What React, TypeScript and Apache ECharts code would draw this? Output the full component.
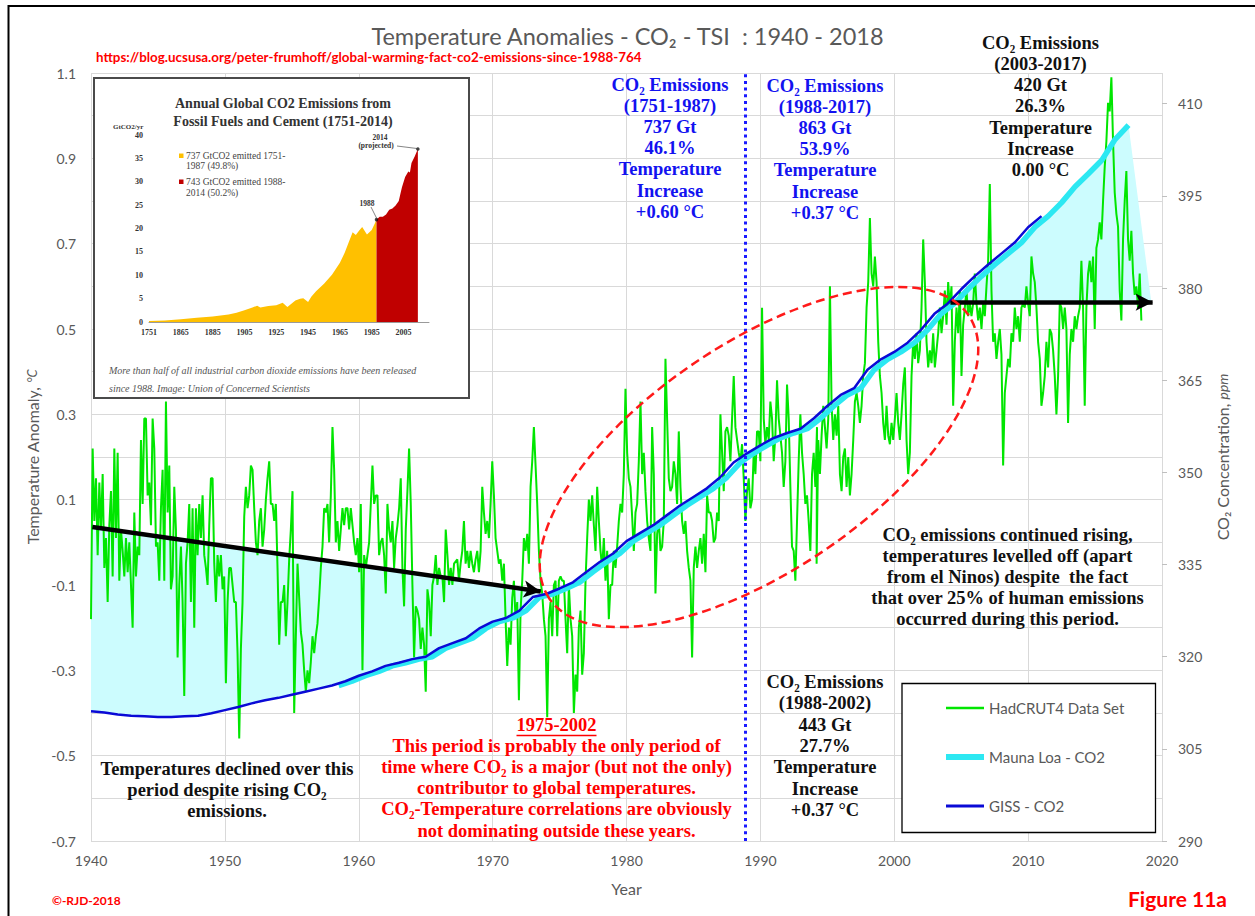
import React, { useEffect, useRef } from "react";
import * as echarts from "echarts";

// ---------------- DATA ----------------
// HadCRUT4 monthly-ish temperature anomalies (°C), three segments
const HADCRUT_STEP = 0.1244;
const HADCRUT_A_START = 1940.0;
const HADCRUT_A = [
  -0.18, 0.22, 0.05, 0.15, -0.03, 0.14, 0.03, 0.16, -0.06, 0.01,
  -0.14, 0.04, 0.12, -0.08, 0.22, 0.01, 0.21, -0.09, 0.03, -0.02,
  -0.08, 0.01, -0.07, 0.0, -0.1, -0.2, 0.07, -0.08, -0.01, -0.03,
  0.24, 0.09, 0.29, 0.29, 0.11, 0.14, 0.04, 0.29, 0.22, -0.01,
  0.0, -0.09, 0.08, 0.17, -0.09, 0.33, 0.07, 0.18, -0.11, -0.08,
  0.13, 0.03, -0.27, -0.1, -0.01, -0.14, -0.36, -0.05, 0.0, 0.09,
  -0.14, 0.08, -0.2, 0.08, -0.03, 0.09, 0.01, 0.11, -0.03, -0.06,
  -0.1, 0.04, 0.15, 0.15, -0.05, -0.14, -0.03, -0.08, -0.03, -0.11,
  -0.08, -0.33, -0.14, -0.06, -0.06, -0.1, -0.14, -0.14, -0.26, -0.46,
  -0.25, -0.14, 0.06, 0.13, 0.08, 0.11, 0.18, 0.17, 0.08, 0.0,
  -0.03, 0.05, 0.08, -0.01, 0.03, 0.1, 0.15, 0.19, 0.09, 0.09,
  0.05, 0.09, -0.06, -0.24, -0.14, -0.14, -0.1, -0.22, -0.14, -0.04,
  0.03, 0.12, -0.4, -0.22, -0.05, -0.13, -0.21, -0.24, -0.3, -0.35,
  -0.3, -0.33, -0.28, -0.22, -0.26, -0.22, -0.19, -0.13, -0.06, -0.01,
  0.08, 0.07, 0.09, 0.0, 0.11, 0.27, 0.17, 0.0, 0.05, -0.02,
  0.03, 0.08, 0.04, 0.08, 0.08, 0.03, 0.08, 0.04, 0.0, -0.03,
  0.01, -0.07, 0.09, -0.3, -0.03, -0.06, -0.03, 0.0, 0.09, 0.18,
  0.09, 0.11, 0.11, -0.03, 0.0, 0.01, -0.03, -0.12, 0.09, 0.03,
  0.0, 0.05, -0.06, 0.01, 0.04, 0.08, 0.15, -0.06, -0.15, 0.03,
  0.12, 0.22, 0.09, -0.1, -0.27, -0.15, -0.16, -0.18, -0.25, -0.2,
  -0.24, -0.35, -0.11, -0.14, -0.22, -0.1, -0.08, -0.03, -0.1, -0.06,
  -0.08, -0.08, -0.14, 0.03, -0.03, -0.1, -0.06, -0.1, -0.05,
];
const HADCRUT_B_START = 1967.36;
const HADCRUT_B = [
  -0.04, -0.09, -0.05, -0.02, 0.05, -0.05, -0.02, -0.06, -0.02, -0.05,
  -0.07, -0.04, -0.02, -0.07, -0.02, 0.13, 0.07, 0.02, 0.05, 0.01,
  0.09, 0.19, 0.11, 0.01, -0.02, -0.05, -0.04, -0.09, -0.05, -0.18,
  -0.29, -0.2, -0.24, -0.13, -0.09, -0.18, -0.14, -0.37, -0.16, -0.09,
  0.01, -0.02, 0.02, -0.05, 0.13, 0.19, 0.27, 0.18, 0.09, -0.02,
  -0.09, -0.12, -0.18, -0.22, -0.41, -0.18, -0.14, -0.22, -0.1, -0.09,
  -0.22, -0.09, -0.08, -0.09, -0.09, -0.18, -0.26, -0.1, -0.18, -0.22,
  -0.4, -0.31, -0.35, -0.2, -0.16, -0.31, -0.26, -0.09, 0.01, 0.1,
  0.05, 0.11, 0.04, -0.02, 0.13, 0.05, -0.02, -0.06, 0.01, -0.09,
  -0.02, -0.18, -0.1, -0.1, -0.02, -0.06, -0.01, 0.05, 0.09, 0.07,
  0.16, 0.36, 0.21, 0.15, 0.13, 0.06, -0.02, 0.07, 0.09, 0.19,
  0.33, 0.16, 0.21, 0.12, 0.05, 0.01, -0.02, 0.27, 0.16, -0.12,
  0.02, 0.05, -0.02, -0.01, 0.05, 0.43, 0.29, 0.15, 0.12, 0.13,
  0.19, 0.16, 0.09, 0.26, 0.13, 0.05, 0.02, 0.05, -0.02, -0.06,
  -0.09, -0.27, -0.06, -0.01, -0.06, -0.02, 0.01, -0.05, 0.02, -0.07,
  0.11, 0.07, 0.07, 0.05, 0.0, 0.01, 0.07, 0.05, 0.3, 0.21,
  0.12, 0.26, 0.27, 0.25, 0.19, 0.29, 0.39, 0.27, 0.24, 0.21,
  0.19, 0.23, 0.15, 0.05, 0.12, 0.15, 0.08, 0.1, 0.21, 0.16,
  0.26, 0.26, 0.19, 0.55, 0.29, 0.23, 0.27, 0.24, 0.33, 0.29,
  0.19, 0.25, 0.38, 0.29, 0.25, 0.21, 0.13, 0.19, 0.37, 0.29,
  0.13, -0.01, -0.02, -0.09, 0.05, 0.19, 0.3, 0.21, 0.16, 0.09,
  0.11, 0.05, -0.02, 0.16, 0.21, 0.13, 0.27,
];
const HADCRUT_C_START = 1994.2;
const HADCRUT_C = [
  -0.05, 0.24, 0.16, 0.25, 0.32, 0.27, 0.22, 0.29, 0.6, 0.32,
  0.24, 0.3, 0.25, 0.32, 0.16, 0.12, 0.2, 0.22, 0.13, 0.2,
  0.11, 0.16, 0.24, 0.33, 0.35, 0.32, 0.28, 0.32, 0.39, 0.42,
  0.55, 0.61, 0.76, 0.63, 0.6, 0.67, 0.61, 0.47, 0.39, 0.35,
  0.28, 0.24, 0.32, 0.25, 0.23, 0.28, 0.24, 0.29, 0.35, 0.28,
  0.24, 0.3, 0.37, 0.41, 0.24, 0.16, 0.21, 0.39, 0.47, 0.43,
  0.49, 0.42, 0.45, 0.55, 0.71, 0.61, 0.47, 0.41, 0.45, 0.42,
  0.49, 0.41, 0.45, 0.49, 0.55, 0.49, 0.53, 0.59, 0.51, 0.61,
  0.55, 0.6, 0.32, 0.47, 0.55, 0.49, 0.59, 0.39, 0.51, 0.55,
  0.59, 0.53, 0.56, 0.53, 0.56, 0.63, 0.56, 0.52, 0.55, 0.5,
  0.56, 0.53, 0.6, 0.66, 0.84, 0.59, 0.47, 0.49, 0.43, 0.47,
  0.5, 0.44, 0.18, 0.35, 0.39, 0.43, 0.41, 0.49, 0.47, 0.55,
  0.5, 0.53, 0.47, 0.55, 0.56, 0.55, 0.6, 0.56, 0.53, 0.67,
  0.63, 0.61, 0.55, 0.47, 0.43, 0.32, 0.35, 0.39, 0.47, 0.41,
  0.5, 0.49, 0.45, 0.39, 0.3, 0.39, 0.56, 0.55, 0.5, 0.55,
  0.5, 0.28, 0.44, 0.5, 0.47, 0.53, 0.5, 0.53, 0.55, 0.66,
  0.55, 0.32, 0.55, 0.63, 0.66, 0.61, 0.67, 0.5, 0.69, 0.71,
  0.75, 0.71, 0.8, 0.88, 0.94, 1.03, 1.01, 1.09, 0.94, 0.82,
  0.77, 0.74, 0.59, 0.52, 0.71, 0.8, 0.87, 0.71, 0.66, 0.73,
  0.63, 0.58, 0.6, 0.55, 0.63, 0.52,
];

// GISS CO2 (ppm), annual from 1940
const GISS_START_YEAR = 1940;
const GISS_CO2 = [
  311.1, 310.9, 310.6, 310.4, 310.3, 310.2, 310.2, 310.3, 310.4, 310.8,
  311.3, 311.8, 312.4, 312.9, 313.3, 313.8, 314.3, 314.8, 315.3, 316.0,
  316.9, 317.6, 318.5, 319.0, 319.6, 320.0, 321.4, 322.2, 323.0, 324.6,
  325.7, 326.3, 327.5, 329.7, 330.2, 331.1, 332.1, 333.8, 335.4, 336.8,
  338.8, 340.1, 341.4, 343.0, 344.6, 346.0, 347.4, 349.2, 351.6, 353.1,
  354.4, 355.6, 356.4, 357.1, 358.8, 360.8, 362.6, 363.7, 366.7, 368.4,
  369.6, 371.1, 373.2, 375.8, 377.5, 379.8, 381.9, 383.8, 385.6, 387.4,
  389.9, 391.7,
];
// Mauna Loa CO2 (ppm), annual means from 1958 (plotted mid-year)
const MLO_START_YEAR = 1958;
const MLO_CO2 = [
  315.3, 316.0, 316.9, 317.6, 318.5, 319.0, 319.6, 320.0, 321.4, 322.2,
  323.0, 324.6, 325.7, 326.3, 327.5, 329.7, 330.2, 331.1, 332.1, 333.8,
  335.4, 336.8, 338.8, 340.1, 341.4, 343.0, 344.6, 346.0, 347.4, 349.2,
  351.6, 353.1, 354.4, 355.6, 356.4, 357.1, 358.8, 360.8, 362.6, 363.7,
  366.7, 368.4, 369.6, 371.1, 373.2, 375.8, 377.5, 379.8, 381.9, 383.8,
  385.6, 387.4, 389.9, 391.7, 393.9, 396.5, 398.6, 400.8, 404.2, 406.5,
];

// Annotation geometry in data units
const ARROW_DECLINE = { from: [1940.1, 0.036], to: [1973.6, -0.115] }; // °C axis
const ARROW_PLATEAU = { from: [2004.2, 377.7], to: [2019.3, 377.7] }; // ppm axis
const PLATEAU_FILL_END_YEAR = 2019.2;
const DIVIDER_YEAR = 1988.85;

// Inset: annual global CO2 emissions (GtCO2/yr)
const EMIS_YEARS = [
  1845, 1855, 1865, 1875, 1885, 1895, 1900, 1905, 1910, 1913, 1915, 1920, 1925,
  1929, 1932, 1937, 1940, 1942, 1945, 1947, 1950, 1955, 1960, 1965, 1968, 1970,
  1973, 1975, 1977, 1979, 1982, 1985, 1987, 1988, 1990, 1992, 1994, 1996, 1998,
  2000, 2002, 2003, 2004, 2006, 2008, 2009, 2010, 2012, 2014,
];
const EMIS_VALUES = [
  0.2, 0.3, 0.6, 0.9, 1.2, 1.6, 2.0, 2.5, 3.1, 3.5, 3.1, 3.4, 3.6,
  4.1, 3.2, 4.6, 5.0, 5.1, 4.3, 5.4, 6.6, 8.2, 10.1, 12.7, 14.8, 16.6,
  19.2, 18.6, 19.5, 20.3, 18.7, 19.7, 21.1, 21.9, 22.5, 22.5, 23.0, 24.0, 24.3,
  24.9, 25.9, 27.4, 28.8, 31.0, 32.2, 32.0, 34.0, 35.4, 37.0,
];
const EMIS_SPLIT_YEAR = 1988;

// axes
const TEMP_MIN = -0.7, TEMP_MAX = 1.1, TEMP_STEP = 0.2;
const PPM_MIN = 290, PPM_MAX = 415, PPM_STEP = 15;
const YEAR_MIN = 1940, YEAR_MAX = 2020, YEAR_STEP = 10;

// ---------------- helpers ----------------
const toPpm = (t: number) =>
  PPM_MIN + ((t - TEMP_MIN) * (PPM_MAX - PPM_MIN)) / (TEMP_MAX - TEMP_MIN);

function buildHadcrut() {
  const out: number[][] = [];
  const segs: [number, number[]][] = [
    [HADCRUT_A_START, HADCRUT_A],
    [HADCRUT_B_START, HADCRUT_B],
    [HADCRUT_C_START, HADCRUT_C],
  ];
  segs.forEach(([s, arr]) =>
    arr.forEach((v, i) => out.push([+(s + i * HADCRUT_STEP).toFixed(3), v]))
  );
  return out;
}

const SERIF = '"Liberation Serif", "Times New Roman", serif';
const SANS = 'Lato, "Open Sans", sans-serif';

function block(lines: string[], cx: number, y0: number, lh: number, color: string, size = 18.5) {
  return lines.map((t, i) => ({
    type: "text",
    x: cx,
    y: y0 + i * lh,
    z: 30,
    silent: true,
    style: {
      text: t,
      fill: color,
      fontSize: size,
      fontWeight: "bold",
      fontFamily: SERIF,
      align: "center",
      verticalAlign: "middle",
    },
  }));
}

function txt(text: string, x: number, y: number, style: any, z = 30) {
  return {
    type: "text",
    x,
    y,
    z,
    silent: true,
    style: { text, verticalAlign: "middle", align: "left", ...style },
  };
}

function buildOption() {
  const hadcrut = buildHadcrut();
  const giss = GISS_CO2.map((v, i) => [GISS_START_YEAR + i, v]);
  const mlo = MLO_CO2.map((v, i) => [MLO_START_YEAR + i + 0.5, v]);

  const fillDecline = [
    [YEAR_MIN, toPpm(ARROW_DECLINE.from[1])],
    [ARROW_DECLINE.to[0], toPpm(ARROW_DECLINE.to[1])],
    ...giss.filter((p) => p[0] <= ARROW_DECLINE.to[0]).reverse(),
  ];
  const fillPlateau = [
    ARROW_PLATEAU.from,
    ...mlo.filter((p) => p[0] > ARROW_PLATEAU.from[0]),
    [PLATEAU_FILL_END_YEAR, ARROW_PLATEAU.from[1]],
  ];
  const fills = [fillDecline, fillPlateau];

  const emisEarly = EMIS_YEARS.map((y, i) => [y, EMIS_VALUES[i]]).filter((p) => p[0] <= EMIS_SPLIT_YEAR);
  const emisLate = EMIS_YEARS.map((y, i) => [y, EMIS_VALUES[i]]).filter((p) => p[0] >= EMIS_SPLIT_YEAR);
  const emisMarks = [emisLate[0], emisLate[emisLate.length - 1]];

  const gray = "#595959";
  const grid = "#d9d9d9";
  const blue = "#1212f0";
  const red = "#ff0000";

  const graphic: any[] = [
    // outer frame
    {
      type: "rect", z: 0, silent: true,
      shape: { x: 8.5, y: 6, width: 1262, height: 940 },
      style: { fill: "none", stroke: "#000", lineWidth: 2 },
    },
    // url
    txt("https://blog.ucsusa.org/peter-frumhoff/global-warming-fact-co2-emissions-since-1988-764", 96, 57, {
      fill: red, fontSize: 13.4, fontWeight: "bold", fontFamily: SANS,
    }),
    // inset frame
    {
      type: "rect", z: 3, silent: true,
      shape: { x: 94, y: 78, width: 375, height: 320 },
      style: { fill: "#fff", stroke: "#4a4a4a", lineWidth: 2 },
    },
    ...block(["Annual Global CO2 Emissions from", "Fossil Fuels and Cement (1751-2014)"], 283, 103, 18, "#333", 14),
    txt("GtCO2/yr", 113, 127, { fill: "#333", fontSize: 7, fontWeight: "bold", fontFamily: SERIF }),
    { type: "rect", z: 30, silent: true, shape: { x: 179, y: 153.5, width: 4.5, height: 4.5 }, style: { fill: "#ffc000" } },
    { type: "rect", z: 30, silent: true, shape: { x: 179, y: 179.5, width: 4.5, height: 4.5 }, style: { fill: "#c00000" } },
    txt("737 GtCO2 emitted 1751-", 186, 156, { fill: "#444", fontSize: 9.5, fontFamily: SERIF }),
    txt("1987 (49.8%)", 186, 166, { fill: "#444", fontSize: 9.5, fontFamily: SERIF }),
    txt("743 GtCO2 emitted 1988-", 186, 182, { fill: "#444", fontSize: 9.5, fontFamily: SERIF }),
    txt("2014 (50.2%)", 186, 192.5, { fill: "#444", fontSize: 9.5, fontFamily: SERIF }),
    txt("2014", 380, 137, { fill: "#333", fontSize: 7.5, fontWeight: "bold", fontFamily: SERIF, align: "center" }),
    txt("(projected)", 376, 145, { fill: "#333", fontSize: 7.5, fontWeight: "bold", fontFamily: SERIF, align: "center" }),
    txt("1988", 367, 203, { fill: "#333", fontSize: 7.5, fontWeight: "bold", fontFamily: SERIF, align: "center" }),
    { type: "line", z: 30, silent: true, shape: { x1: 397, y1: 146, x2: 417, y2: 148.5 }, style: { stroke: "#333", lineWidth: 0.6 } },
    { type: "line", z: 30, silent: true, shape: { x1: 371, y1: 207, x2: 376.5, y2: 218 }, style: { stroke: "#333", lineWidth: 0.6 } },
    txt("More than half of all industrial carbon dioxide emissions have been released", 109, 370, {
      fill: "#555", fontSize: 10, fontStyle: "italic", fontFamily: SERIF,
    }),
    txt("since 1988. Image: Union of Concerned Scientists", 109, 388, {
      fill: "#555", fontSize: 10, fontStyle: "italic", fontFamily: SERIF,
    }),
    // red dashed ellipse
    {
      type: "ellipse", z: 10, silent: true, x: 759, y: 457, rotation: (34 * Math.PI) / 180,
      shape: { cx: 0, cy: 0, rx: 253, ry: 114 },
      style: { fill: "none", stroke: "#ff1a1a", lineWidth: 2.5, lineDash: [9, 5] },
    },
    // annotation blocks
    ...block(["CO₂ Emissions", "(1751-1987)", "737 Gt", "46.1%", "Temperature", "Increase", "+0.60 °C"], 670, 85, 21.1, blue),
    ...block(["CO₂ Emissions", "(1988-2017)", "863 Gt", "53.9%", "Temperature", "Increase", "+0.37 °C"], 825, 86, 21.1, blue),
    ...block(["CO₂ Emissions", "(2003-2017)", "420 Gt", "26.3%", "Temperature", "Increase", "0.00 °C"], 1040.5, 42.7, 21.2, "#111"),
    ...block(["CO₂ Emissions", "(1988-2002)", "443 Gt", "27.7%", "Temperature", "Increase", "+0.37 °C"], 825, 682, 21.3, "#111"),
    ...block(["Temperatures declined over this", "period despite rising CO₂", "emissions."], 227, 768.5, 21.2, "#111"),
    ...block([
      "1975-2002",
      "This period is probably the only period of",
      "time where CO₂ is a major (but not the only)",
      "contributor to global temperatures.",
      "CO₂-Temperature correlations are obviously",
      "not dominating outside these years.",
    ], 556.5, 725, 21.1, red),
    { type: "line", z: 30, silent: true, shape: { x1: 516.5, y1: 735.5, x2: 596.5, y2: 735.5 }, style: { stroke: red, lineWidth: 1.3 } },
    ...block([
      "CO₂ emissions continued rising,",
      "temperatures levelled off (apart",
      "from el Ninos) despite  the fact",
      "that over 25% of human emissions",
      "occurred during this period.",
    ], 1007.5, 535, 21, "#111"),
    // legend frame
    {
      type: "rect", z: 5, silent: true,
      shape: { x: 902, y: 683.5, width: 253.5, height: 149 },
      style: { fill: "#fff", stroke: "#000", lineWidth: 1.3 },
    },
    // footer
    txt("©-RJD-2018", 52, 900, { fill: red, fontSize: 12, fontWeight: "bold", fontFamily: SANS }),
    txt("Figure 11a", 1128, 898, { fill: red, fontSize: 21, fontWeight: "bold", fontFamily: SANS }),
  ];

  const arrowMark = (from: number[], to: number[]) => ({
    silent: true,
    symbol: ["none", "arrow"],
    symbolSize: [13, 17],
    label: { show: false },
    lineStyle: { color: "#000", width: 4.5, type: "solid" },
    itemStyle: { color: "#000" },
    data: [[{ coord: from }, { coord: to }]],
  });

  return {
    animation: false,
    backgroundColor: "#fff",
    textStyle: { fontFamily: SANS },
    title: {
      text: "Temperature Anomalies - CO₂ - TSI  : 1940 - 2018",
      left: "center",
      top: 19,
      textStyle: { color: gray, fontSize: 23.5, fontWeight: "normal", fontFamily: SANS },
    },
    legend: {
      data: [
        { name: "HadCRUT4 Data Set", icon: "path://M0,0H38V2.5H0Z" },
        { name: "Mauna Loa - CO2", icon: "path://M0,0H38V6H0Z" },
        { name: "GISS - CO2", icon: "path://M0,0H38V3H0Z" },
      ],
      orient: "vertical",
      left: 941,
      top: 695.5,
      itemWidth: 38,
      itemHeight: 16,
      itemGap: 34,
      selectedMode: false,
      z: 8,
      textStyle: { color: gray, fontSize: 15, fontFamily: SANS },
    },
    grid: [
      { left: 91, top: 73, width: 1071, height: 768 },
      { left: 149, top: 135, width: 280, height: 187 },
    ],
    xAxis: [
      {
        type: "value", gridIndex: 0, min: YEAR_MIN, max: YEAR_MAX, interval: YEAR_STEP,
        axisLine: { show: false }, axisTick: { show: false },
        axisLabel: { color: gray, fontSize: 14, margin: 12, formatter: (v: number) => String(v) },
        splitLine: { show: true, lineStyle: { color: grid, width: 1 } },
        name: "Year", nameLocation: "middle", nameGap: 39,
        nameTextStyle: { color: gray, fontSize: 16 },
      },
      {
        type: "value", gridIndex: 1, min: 1845, max: 2021, interval: 20, z: 4,
        axisLine: { show: true, lineStyle: { color: "#9a9a9a", width: 1 } }, axisTick: { show: false },
        splitLine: { show: false },
        axisLabel: {
          color: "#333", fontSize: 8, fontWeight: "bold", fontFamily: SERIF, margin: 6, showMaxLabel: false,
          formatter: (v: number) => (v === 1845 ? "1751" : v === 2021 ? "" : String(v)),
        },
      },
    ],
    yAxis: [
      {
        type: "value", gridIndex: 0, min: TEMP_MIN, max: TEMP_MAX, interval: TEMP_STEP,
        axisLine: { show: false }, axisTick: { show: false },
        axisLabel: { color: gray, fontSize: 14, margin: 15, formatter: (v: number) => v.toFixed(1) },
        splitLine: { show: true, lineStyle: { color: grid, width: 1 } },
        minorTick: { show: false, splitNumber: 2 },
        minorSplitLine: { show: true, lineStyle: { color: grid, width: 1 } },
        name: "Temperature Anomaly, {i|°C}", nameLocation: "middle", nameGap: 50, nameRotate: 90,
        nameTextStyle: {
          color: gray, fontSize: 16,
          rich: { i: { fontStyle: "italic", fontSize: 13, color: gray } },
        },
      },
      {
        type: "value", gridIndex: 0, position: "right", min: PPM_MIN, max: PPM_MAX, interval: PPM_STEP,
        axisLine: { show: false },
        axisTick: { show: true, length: 5, lineStyle: { color: "#bfbfbf" } },
        axisLabel: { color: gray, fontSize: 14, margin: 16, showMaxLabel: false },
        splitLine: { show: false },
        name: "CO₂ Concentration, {i|ppm}", nameLocation: "middle", nameGap: 52, nameRotate: 90,
        nameTextStyle: {
          color: gray, fontSize: 16,
          rich: { i: { fontStyle: "italic", fontSize: 14, color: gray } },
        },
      },
      {
        type: "value", gridIndex: 1, min: 0, max: 40, interval: 5, z: 4,
        axisLine: { show: false }, axisTick: { show: false }, splitLine: { show: false },
        axisLabel: { color: "#333", fontSize: 8, fontWeight: "bold", fontFamily: SERIF, margin: 6 },
      },
    ],
    graphic: { elements: graphic },
    series: [
      {
        type: "custom",
        name: "fill",
        xAxisIndex: 0,
        yAxisIndex: 1,
        z: 1,
        silent: true,
        data: [fillDecline[0], fillPlateau[0]],
        renderItem: (params: any, api: any) => ({
          type: "polygon",
          shape: { points: fills[params.dataIndex].map((p) => api.coord(p)) },
          style: { fill: "#ccfcfe", stroke: "none" },
        }),
      },
      {
        type: "line",
        name: "HadCRUT4 Data Set",
        xAxisIndex: 0,
        yAxisIndex: 0,
        data: hadcrut,
        symbol: "none",
        showSymbol: false,
        z: 2,
        lineStyle: { color: "#00e600", width: 2 },
        itemStyle: { color: "#00e600" },
        markLine: arrowMark(ARROW_DECLINE.from, ARROW_DECLINE.to),
      },
      {
        type: "line",
        name: "Mauna Loa - CO2",
        xAxisIndex: 0,
        yAxisIndex: 1,
        data: mlo,
        symbol: "none",
        showSymbol: false,
        z: 3,
        lineStyle: { color: "#2ce8f2", width: 5.5 },
        itemStyle: { color: "#2ce8f2" },
        markLine: arrowMark(ARROW_PLATEAU.from, ARROW_PLATEAU.to),
      },
      {
        type: "line",
        name: "GISS - CO2",
        xAxisIndex: 0,
        yAxisIndex: 1,
        data: giss,
        symbol: "none",
        showSymbol: false,
        z: 4,
        lineStyle: { color: "#0a0ad6", width: 2.5 },
        itemStyle: { color: "#0a0ad6" },
        markLine: {
          silent: true,
          symbol: "none",
          label: { show: false },
          lineStyle: { color: "#1a1aff", width: 3, type: [3, 3.7] },
          data: [{ xAxis: DIVIDER_YEAR }],
        },
      },
      {
        type: "line",
        name: "emissions 1751-1987",
        xAxisIndex: 1,
        yAxisIndex: 2,
        data: emisEarly,
        symbol: "none",
        z: 4,
        lineStyle: { width: 0 },
        areaStyle: { color: "#ffc000", opacity: 1 },
        silent: true,
      },
      {
        type: "line",
        name: "emissions 1988-2014",
        xAxisIndex: 1,
        yAxisIndex: 2,
        data: emisLate,
        symbol: "none",
        z: 4,
        lineStyle: { width: 0 },
        areaStyle: { color: "#c00000", opacity: 1 },
        silent: true,
      },
      {
        type: "scatter",
        name: "emission marks",
        xAxisIndex: 1,
        yAxisIndex: 2,
        data: emisMarks,
        symbolSize: 3.5,
        z: 5,
        itemStyle: { color: "#111" },
        silent: true,
      },
    ],
  };
}

export default function App() {
  const ref = useRef<HTMLDivElement>(null);
  useEffect(() => {
    if (!ref.current) return;
    const chart = echarts.init(ref.current, undefined, { renderer: "svg" });
    chart.setOption(buildOption() as any);
    return () => chart.dispose();
  }, []);
  return (
    <div
      ref={ref}
      style={{ position: "absolute", left: 0, top: 0, width: 1255, height: 916, background: "#fff" }}
    />
  );
}
